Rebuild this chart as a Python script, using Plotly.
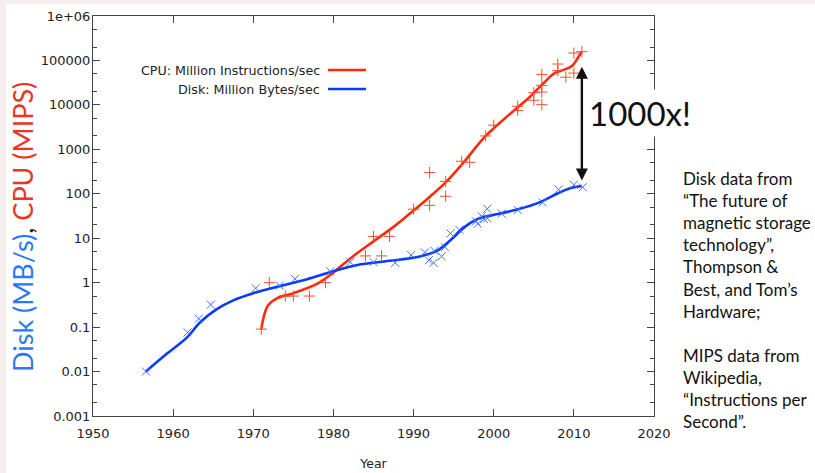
import math
import plotly.graph_objects as go

# --- measured data -------------------------------------------------------
cpu_years = [1971, 1972, 1974, 1975, 1977, 1979, 1984, 1985, 1986, 1987,
             1990, 1992, 1992, 1994, 1994, 1996, 1997, 1999, 2000, 2003,
             2003, 2005, 2005, 2006, 2006, 2006, 2006, 2008, 2008, 2009,
             2010, 2010, 2011]
cpu_mips = [0.09, 1.0, 0.5, 0.5, 0.5, 1.0, 4, 11, 4, 11,
            45, 300, 55, 190, 88, 540, 510, 2000, 3500, 9300,
            7500, 18800, 12700, 48600, 27500, 19500, 10100, 83000, 59000, 42000,
            147000, 52000, 158000]

disk_years = [1956.6, 1961.8, 1963.2, 1964.7, 1970.3, 1973.3, 1975.2, 1979.6,
              1982.1, 1985, 1987.7, 1989.7, 1991.4, 1991.9, 1992.5, 1992.6,
              1993.5, 1993.9, 1994.6, 1995.7, 1997.8, 1998, 1998.5, 1998.8,
              1999.2, 1999.2, 2001, 2003, 2006.1, 2008.1, 2010, 2011.1]
disk_mbs = [0.01, 0.076, 0.155, 0.32, 0.75, 0.86, 1.22, 1.8,
            2.9, 2.9, 2.8, 4.2, 4.8, 3.2, 2.8, 5.2,
            3.9, 6.3, 12.8, 15.5, 24, 21, 31, 27,
            46, 28, 36, 43, 64, 125, 160, 140]

# smoothed trend curves
cpu_fit_years = [1971, 1971.8, 1973, 1975, 1978, 1980, 1982.5, 1985, 1987.5,
                 1990, 1992, 1994, 1996, 1999, 2002, 2004.5, 2006.3, 2007.6,
                 2008.8, 2009.8, 2010.5, 2011]
cpu_fit = [0.09, 0.3, 0.45, 0.58, 0.95, 1.7, 4, 8.5, 18,
           42, 85, 180, 450, 2000, 6200, 15000, 32000, 52000,
           62000, 76000, 115000, 160000]

disk_fit_years = [1956.6, 1959.2, 1961.7, 1963.4, 1965.4, 1967.5, 1970, 1972.9,
                  1976.7, 1980, 1983, 1987, 1990.8, 1992.9, 1994.6, 1996.4,
                  1998, 2000.5, 2002.9, 2005.8, 2007.9, 2009.6, 2011]
disk_fit = [0.01, 0.025, 0.058, 0.13, 0.25, 0.4, 0.58, 0.8,
            1.2, 1.8, 2.5, 3.1, 3.9, 5.2, 9, 18,
            27, 35, 44, 65, 100, 135, 150]

y_tickvals = [0.001, 0.01, 0.1, 1, 10, 100, 1000, 10000, 100000, 1000000]
y_ticktext = ["0.001", "0.01", "0.1", "1", "10", "100", "1000", "10000",
              "100000", "1e+06"]
x_tickvals = [1950, 1960, 1970, 1980, 1990, 2000, 2010, 2020]

RED_LINE = "#ff2a0a"
RED_MARK = "#ff4a35"
BLUE_LINE = "#0a3aff"
BLUE_MARK = "#4272ff"

W, H = 815, 473
ML, MR, MT, MB = 93, 161, 16, 57
PW, PH = W - ML - MR, H - MT - MB


def px(x):
    return (x - ML) / PW


def py(y):
    return 1 - (y - MT) / PH


fig = go.Figure()

fig.add_trace(go.Scatter(x=cpu_fit_years, y=cpu_fit, mode="lines",
                         line=dict(color=RED_LINE, width=2.6, shape="spline", smoothing=1.0),
                         hoverinfo="skip", showlegend=False))
fig.add_trace(go.Scatter(x=disk_fit_years, y=disk_fit, mode="lines",
                         line=dict(color=BLUE_LINE, width=2.6, shape="spline", smoothing=1.0),
                         hoverinfo="skip", showlegend=False))
fig.add_trace(go.Scatter(x=cpu_years, y=cpu_mips, mode="markers",
                         marker=dict(symbol="cross-thin", size=8,
                                     line=dict(color=RED_MARK, width=1)),
                         name="CPU", showlegend=False))
fig.add_trace(go.Scatter(x=disk_years, y=disk_mbs, mode="markers",
                         marker=dict(symbol="x-thin", size=8,
                                     line=dict(color=BLUE_MARK, width=1)),
                         name="Disk", showlegend=False))

tick_font = dict(family="DejaVu Sans", size=13, color="#222")
minor_vals = [m * 10 ** e for e in range(-3, 6) for m in (2, 5)]

fig.update_xaxes(range=[1950, 2020], tickvals=x_tickvals, ticks="inside",
                 ticklen=7, tickcolor="#444", showline=True, linecolor="#444",
                 linewidth=1, mirror="allticks", showgrid=False, zeroline=False,
                 tickfont=tick_font, ticklabelstandoff=5, automargin=False,
                 title=dict(text="Year", font=dict(family="DejaVu Sans", size=12.5, color="#222"),
                            standoff=19))
fig.update_yaxes(type="log", range=[-3, 6], tickvals=y_tickvals, ticktext=y_ticktext,
                 ticks="inside", ticklen=7, tickcolor="#444", showline=True,
                 linecolor="#444", linewidth=1, mirror="allticks", showgrid=False,
                 zeroline=False, tickfont=tick_font, ticklabelstandoff=-1,
                 automargin=False,
                 minor=dict(tickvals=minor_vals, ticks="inside", ticklen=4,
                            tickcolor="#444", showgrid=False))

shapes = [
    # slide backdrop edge
    dict(type="rect", xref="paper", yref="paper", x0=px(6), x1=px(W + 5),
         y0=py(H + 5), y1=py(4), fillcolor="white", line=dict(width=0), layer="below"),
    # legend samples
    dict(type="line", xref="paper", yref="paper", x0=px(328), x1=px(366),
         y0=py(70), y1=py(70), line=dict(color=RED_LINE, width=2.6)),
    dict(type="line", xref="paper", yref="paper", x0=px(328), x1=px(366),
         y0=py(89), y1=py(89), line=dict(color=BLUE_LINE, width=2.6)),
]

legend_font = dict(family="DejaVu Sans", size=12.7, color="#222")
annotations = [
    dict(text="CPU: Million Instructions/sec", xref="paper", yref="paper",
         x=px(322), y=py(70), xanchor="right", yanchor="middle",
         showarrow=False, font=legend_font),
    dict(text="Disk: Million Bytes/sec", xref="paper", yref="paper",
         x=px(322), y=py(89), xanchor="right", yanchor="middle",
         showarrow=False, font=legend_font),
    # y-axis title in two colours
    dict(text='<span style="color:#2a78ff">Disk (MB/s)</span>'
              '<span style="color:#222">, </span>'
              '<span style="color:#ee3322">CPU (MIPS)</span>',
         xref="paper", yref="paper", x=px(22), y=py(227), textangle=-90,
         xanchor="center", yanchor="middle", showarrow=False,
         font=dict(family="Lato", size=27)),
    dict(text="1000x!", xref="paper", yref="paper", x=px(640), y=py(113),
         xanchor="center", yanchor="middle", showarrow=False,
         bgcolor="white", borderpad=3,
         font=dict(family="Lato", size=33, color="#111")),
    # gap between the two curves
    dict(text="", x=2011, y=math.log10(200), xref="x", yref="y",
         ax=2011, ay=math.log10(78000), axref="x", ayref="y",
         showarrow=True, arrowside="end+start", arrowhead=2, arrowsize=1,
         arrowwidth=2.4, arrowcolor="#111"),
    dict(text="Disk data from<br>“The future of<br>magnetic storage<br>technology”,<br>"
              "Thompson &amp;<br>Best, and Tom’s<br>Hardware;<br><br>MIPS data from<br>"
              "Wikipedia,<br>“Instructions per<br>Second”.",
         xref="paper", yref="paper", x=px(681), y=py(166), xanchor="left",
         yanchor="top", align="left", showarrow=False,
         font=dict(family="Lato", size=17, color="#111")),
]

fig.update_layout(width=W, height=H, margin=dict(l=ML, r=MR, t=MT, b=MB),
                  paper_bgcolor="#f6eeee", plot_bgcolor="white",
                  shapes=shapes, annotations=annotations, showlegend=False)

fig.write_html("out.html")
